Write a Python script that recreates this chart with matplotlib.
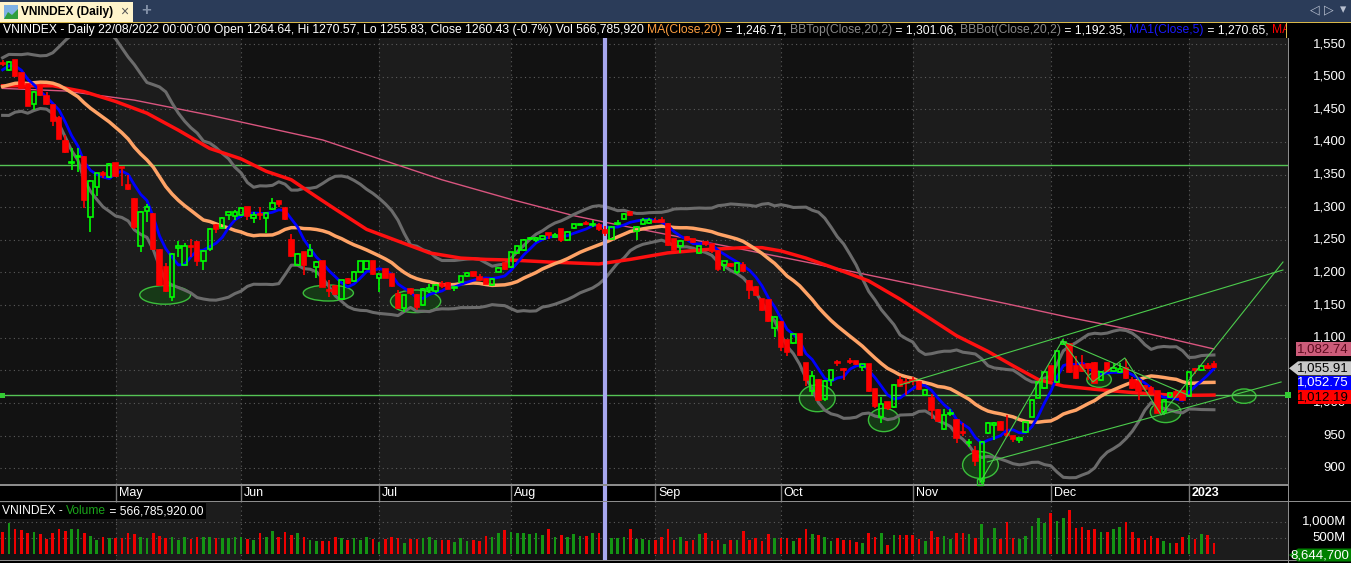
import matplotlib
matplotlib.use('Agg')
import matplotlib.pyplot as plt
import matplotlib.transforms as mtransforms
from matplotlib.patches import Rectangle, Ellipse, Polygon
import numpy as np
import pandas as pd

plt.rcParams['font.family'] = ['Liberation Sans', 'DejaVu Sans']

# ---- daily bars: bar 0 = 05/04/2022 ... bar 193 = 09/01/2023
opens = [
    1521, 1510, 1525, 1505, 1488, 1458, 1485, 1471, 1456, 1436,
    1402, 1368, 1377, 1377, 1285, 1331, 1353, 1346, 1367, 1362,
    1334, 1313, 1240, 1294, 1290, 1235, 1208, 1163, 1238, 1212,
    1241, 1247, 1218, 1236, 1273, 1268, 1288, 1287, 1288, 1300,
    1283, 1290, 1284, 1297, 1309, 1298, 1249, 1212, 1231, 1225,
    1209, 1217, 1173, 1179, 1160, 1190, 1187, 1201, 1206, 1217,
    1192, 1205, 1197, 1167, 1146, 1175, 1165, 1150, 1173, 1171,
    1183, 1184, 1177, 1186, 1194, 1200, 1193, 1190, 1181, 1201,
    1214, 1208, 1230, 1234, 1252, 1249, 1251, 1260, 1255, 1267,
    1249, 1268, 1273.5, 1276.4, 1273.8, 1272, 1264.64, 1252, 1274, 1282,
    1292, 1264, 1275, 1276, 1279, 1280, 1275, 1251, 1241, 1255,
    1251, 1230, 1247, 1243, 1233, 1211, 1213, 1200, 1212, 1187,
    1178, 1159, 1158, 1115, 1124, 1096, 1092, 1105, 1062, 1018,
    1036, 1006, 1036, 1063, 1052, 1064, 1064, 1055, 1059, 1022,
    978, 1001, 994, 1036, 1032, 1035, 1032, 1011.5, 1008, 990,
    960, 983, 974.6, 955, 939, 926, 880, 954, 966.5, 970.5,
    952, 949, 943, 955, 979, 1008, 1023, 1056, 1032, 1091,
    1089.7, 1056, 1057.5, 1059, 1061.5, 1034.5, 1061.5, 1049, 1047, 1054,
    1036, 1033, 1026, 1023, 1018, 986, 1009, 1016.5, 1018, 1010.5,
    1052, 1050, 1057, 1060.5]
highs = [
    1525, 1524, 1526, 1506, 1489, 1478, 1485, 1477, 1457, 1440,
    1410, 1390, 1391, 1378, 1341, 1353, 1356, 1368, 1368, 1362,
    1349, 1314, 1294, 1305, 1291, 1236, 1215, 1230, 1248, 1245,
    1251, 1248, 1234, 1268, 1274, 1285, 1293, 1295, 1299, 1300,
    1293, 1300, 1292, 1314, 1310, 1299, 1259, 1230, 1232, 1243,
    1217, 1218, 1188, 1180, 1188, 1191, 1202, 1218, 1218, 1218,
    1198, 1206, 1198, 1173, 1165, 1176, 1167, 1176, 1182, 1182,
    1187, 1185, 1178, 1194, 1201, 1201, 1197, 1191, 1191, 1208,
    1214, 1232, 1241, 1251, 1255, 1254, 1258, 1261, 1260, 1267,
    1263, 1275, 1275, 1278.5, 1280, 1276, 1270.57, 1271, 1280, 1291,
    1294, 1271, 1283, 1284, 1284, 1285, 1276, 1252, 1249, 1256,
    1252, 1241, 1248, 1244, 1234, 1218, 1215, 1216, 1216, 1189,
    1179, 1159, 1158, 1133, 1125, 1097, 1106, 1106, 1062, 1049,
    1037, 1035, 1051, 1066, 1053, 1069, 1065, 1060, 1060, 1022,
    1009, 1002, 1029, 1042, 1039, 1040, 1033, 1021, 1014.5, 991,
    991, 991.5, 975, 969.5, 945, 934, 942, 971, 971, 972,
    982, 950, 947, 971, 1006, 1033, 1048, 1057, 1080, 1098,
    1091, 1072, 1074, 1062, 1063, 1048, 1062, 1062, 1061.5, 1067,
    1040, 1034, 1027, 1026, 1019, 1006, 1016, 1020, 1019, 1047,
    1053, 1058, 1062, 1064]
lows = [
    1517, 1508, 1500, 1481, 1455, 1449, 1471, 1457, 1425, 1404,
    1383, 1357, 1354, 1299, 1262, 1317, 1345, 1344, 1346, 1332,
    1327, 1266, 1232, 1278, 1235, 1180, 1170, 1157, 1224, 1211,
    1224, 1210, 1203, 1233, 1261, 1267, 1281, 1281, 1287, 1281,
    1276, 1281, 1261, 1296, 1300, 1281, 1224, 1210, 1196, 1224,
    1192, 1177, 1163, 1166, 1158, 1183, 1186, 1200, 1205, 1196,
    1170, 1191, 1178, 1145, 1140, 1166, 1143, 1148, 1169, 1169,
    1176, 1174, 1171, 1185, 1193, 1193, 1187, 1182, 1179, 1200,
    1204, 1207, 1229, 1233, 1249, 1246, 1250, 1251, 1253, 1246,
    1248, 1267, 1273, 1272, 1270, 1263, 1255.83, 1251, 1272, 1280,
    1286, 1249, 1273, 1275, 1276, 1276, 1241, 1233, 1230, 1248,
    1245, 1229, 1240, 1230, 1202, 1202, 1208, 1198, 1201, 1160,
    1164, 1141, 1124, 1101, 1079, 1072, 1090, 1072, 1026, 1013,
    1003, 1003, 1026, 1056, 1035, 1059, 1058, 1049, 1017, 992,
    970, 990, 993, 1025, 1013, 1028, 1020, 1010, 975, 971,
    959, 980, 938, 949, 933, 903, 874, 952, 943, 958,
    948, 941, 938, 954, 978, 1007, 1022, 1034, 1031, 1089.6,
    1046, 1037, 1048, 1036, 1030, 1033, 1048, 1048, 1046, 1037,
    1022, 1005, 1019, 1014, 984, 982, 1008, 1008, 1004, 1009,
    1045, 1049, 1052, 1054]
closes = [
    1519, 1523, 1501, 1482, 1455, 1477, 1472, 1458, 1432, 1405,
    1384, 1369, 1378, 1311, 1340, 1353, 1349, 1366, 1348, 1360,
    1328, 1269, 1293, 1301, 1236, 1181, 1171, 1229, 1240, 1241,
    1239, 1218, 1233, 1267, 1267, 1284, 1292, 1292, 1298, 1286,
    1288, 1289, 1291, 1307, 1305, 1282, 1225, 1229, 1212, 1235,
    1216, 1178, 1172, 1167, 1188, 1184, 1201, 1217, 1217, 1197,
    1197, 1192, 1179, 1146, 1165, 1168, 1147, 1175, 1176, 1181,
    1179, 1175, 1178, 1194, 1199, 1194, 1188, 1183, 1190, 1207,
    1205, 1231, 1240, 1250, 1253, 1253, 1256, 1258, 1257, 1249,
    1262, 1274, 1274.5, 1273.8, 1274.3, 1267, 1260.43, 1270, 1276, 1290,
    1288, 1270, 1280, 1281, 1277, 1278, 1242, 1234, 1248, 1250,
    1247, 1240, 1243, 1233, 1206, 1217, 1210, 1215, 1202, 1173,
    1165, 1142, 1125, 1132, 1086, 1078, 1105, 1073, 1036, 1041,
    1005, 1034, 1050, 1062, 1050, 1063, 1059, 1059, 1018, 995,
    998, 992.5, 1027, 1026, 1030, 1034, 1022, 1020.6, 990, 972,
    982, 984, 946, 954, 940, 911, 941, 969.5, 969.5, 959,
    951.6, 945, 946.5, 970.5, 1005, 1032, 1047, 1035, 1079.4, 1093,
    1047, 1038.5, 1049, 1054, 1031, 1047, 1049, 1054, 1052, 1038.5,
    1023, 1018, 1021, 1015.5, 985, 1005, 1015.5, 1009, 1005, 1046.84,
    1051, 1057, 1053, 1055.91]
volumes_m = [
    677, 957, 763, 731, 634, 677, 624, 462, 634, 785,
    710, 785, 785, 656, 548, 441, 527, 495, 495, 495,
    634, 602, 527, 495, 656, 548, 495, 527, 441, 527,
    462, 527, 527, 527, 495, 495, 495, 527, 527, 462,
    419, 634, 527, 699, 527, 677, 591, 634, 527, 441,
    387, 408, 408, 527, 484, 419, 495, 441, 527, 462,
    355, 462, 527, 495, 333, 462, 462, 495, 527, 419,
    441, 419, 376, 495, 387, 441, 408, 548, 527, 656,
    742, 677, 656, 634, 602, 634, 570, 763, 527, 570,
    527, 602, 548, 548, 634, 656, 567, 495, 495, 527,
    785, 462, 462, 441, 441, 527, 785, 441, 527, 387,
    419, 602, 634, 387, 419, 312, 419, 441, 710, 419,
    495, 387, 602, 495, 495, 495, 387, 495, 785, 602,
    570, 527, 387, 495, 419, 419, 355, 333, 634, 527,
    656, 280, 570, 570, 570, 570, 462, 387, 710, 527,
    548, 462, 634, 634, 602, 495, 925, 495, 817, 462,
    978, 495, 462, 548, 871, 1107, 957, 1279, 1021, 1107,
    1354, 817, 849, 742, 785, 677, 677, 785, 849, 978,
    688, 495, 419, 548, 495, 387, 333, 333, 527, 570,
    462, 602, 583, 344]
# closes before the first visible bar (needed by MA20 / Bollinger)
pre_close = [1473, 1452, 1470, 1473, 1452, 1455, 1463, 1459, 1471, 1489,
             1492, 1498, 1499, 1504, 1494, 1492, 1502, 1515, 1524]

# longer averages (bar index, value)
ma50_bar = [0, 8, 13, 18, 23, 28, 33, 38, 42, 46, 50, 53, 58, 63, 68, 73, 77, 81, 87, 95,
            100, 106, 112, 118, 121, 124, 128, 133, 138, 143, 148, 152, 157, 161, 165, 169,
            174, 180, 187, 193]
ma50_val = [1486, 1486, 1477, 1462, 1444, 1418, 1390, 1374, 1355, 1342, 1316, 1297, 1266,
            1248, 1230, 1222, 1220, 1219, 1216, 1213, 1220, 1230, 1235, 1238, 1238, 1233,
            1222, 1205, 1187, 1159, 1128, 1103, 1079, 1057, 1036, 1026, 1021, 1016, 1011.5,
            1012.19]
ma200_bar = [0, 10, 21, 33, 51, 70, 81, 91, 98, 107, 117, 128, 138, 150, 160, 170, 180, 193]
ma200_val = [1482, 1478, 1464, 1441, 1403, 1342, 1312, 1287, 1273, 1256, 1237, 1216, 1196,
             1172, 1152, 1131, 1112, 1082.74]

month_start = [18, 38, 60, 81, 104, 124, 145, 167, 189]
month_names = ['May', 'Jun', 'Jul', 'Aug', 'Sep', 'Oct', 'Nov', 'Dec', '2023']
sel_bar = 96

# drawn annotations (bar index, price)
ell_bar = [25.9, 51.9, 65.8, 129.8, 140.4, 155.8, 174.7, 185.3, 197.8]
ell_price = [1165.6, 1168.5, 1155.8, 1007.2, 974, 905, 1036, 986, 1010.5]
ell_w = [8.1, 8.0, 8.0, 5.7, 4.9, 5.7, 3.9, 4.9, 3.8]
ell_h = [28.5, 24.5, 34.7, 41, 35.7, 41, 24, 32, 22]
hlines = [1364.2, 1012.3]
trend_lines = [
    [(143.0, 1027.6), (204.0, 1203.8)],
    [(156.9, 909.7), (203.7, 1032.2)],
    [(155.7, 877.5), (168.8, 1095.0), (173.7, 1032.2), (178.8, 1069.0),
     (184.6, 981.7), (204.0, 1216.0)],
    [(168.8, 1095.0), (189.2, 1010.8)],
]

# ---- indicators
n = len(closes)
idx = np.arange(n)
o = np.array(opens); h = np.array(highs); l = np.array(lows); c = np.array(closes)
up = c >= o
full = pd.Series(np.concatenate([pre_close, closes]))
k0 = len(pre_close)
ma20 = full.rolling(20).mean().values[k0:]
sd20 = full.rolling(20).std(ddof=0).values[k0:]
ma5 = full.rolling(5).mean().values[k0:]
bb_top = ma20 + 2 * sd20
bb_bot = ma20 - 2 * sd20

# ---- figure
W, H = 1351, 563
fig = plt.figure(figsize=(W / 100, H / 100), dpi=100)
fig.patch.set_facecolor('black')


def P(x, y):
    return (x / W, 1 - y / H)


def fr(x0, y0, x1, y1):
    return [x0 / W, 1 - y1 / H, (x1 - x0) / W, (y1 - y0) / H]


def rect(x0, y0, x1, y1, col, z=6):
    fig.add_artist(Rectangle(P(x0, y1), (x1 - x0) / W, (y1 - y0) / H,
                             transform=fig.transFigure, facecolor=col,
                             edgecolor='none', zorder=z))


R = 1288
ax = fig.add_axes(fr(0, 38, R, 484))
ax_s = fig.add_axes(fr(0, 484, R, 501), sharex=ax)
ax_v = fig.add_axes(fr(0, 501, R, 560), sharex=ax)
for a in (ax, ax_s, ax_v):
    a.set_facecolor('black')
    a.set_xticks([])
    a.set_yticks([])
    for sp in a.spines.values():
        sp.set_visible(False)
ax.set_xlim(-0.414, 204.8)
ax.set_ylim(875.9, 1559.2)
ax_v.set_ylim(-197e6, 1646e6)
ax_s.set_ylim(0, 1)

# alternating month shading
bounds = [-1] + month_start + [206]
for k in range(len(bounds) - 1):
    col = '#121212' if k % 2 == 0 else '#1c1c1c'
    for a in (ax, ax_v):
        a.axvspan(bounds[k], bounds[k + 1], color=col, lw=0, zorder=0)

grid_kw = dict(color='#5c5c5c', lw=0.8, ls=(0, (1, 3)), zorder=1)
for p in range(900, 1551, 50):
    ax.axhline(p, **grid_kw)
for m in month_start:
    ax.axvline(m, **grid_kw)
    ax_v.axvline(m, **grid_kw)
    ax_s.axvline(m, color='#7a7a7a', lw=1, zorder=1)
for v in (500e6, 1000e6):
    ax_v.axhline(v, **grid_kw)

for ex, ey, ew, eh in zip(ell_bar, ell_price, ell_w, ell_h):
    ax.add_patch(Ellipse((ex, ey), ew, eh, facecolor='#173d17', edgecolor='#3fcf3f',
                         lw=1.0, alpha=0.9, zorder=2))
for p in hlines:
    ax.axhline(p, color='#55c455', lw=1, zorder=2.5)

for a in (ax, ax_s, ax_v):
    a.axvline(sel_bar, color='#a7a7ee', lw=3, zorder=3.5)

ax.plot(ma200_bar, ma200_val, color='#d9557f', lw=1.0, zorder=3)
ax.plot(idx, bb_top, color='#6b6b6b', lw=2.2, zorder=3)
ax.plot(idx, bb_bot, color='#6b6b6b', lw=2.2, zorder=3)
ax.plot(ma50_bar, ma50_val, color='#ff1010', lw=2.5, zorder=3)
ax.plot(idx, ma20, color='#ffa366', lw=2.5, zorder=3)
ax.plot(idx, ma5, color='#0000ff', lw=2, zorder=3)

# candles
bw = 0.7
for i in idx:
    col = '#00ff00' if up[i] else '#ff0000'
    lo_b, hi_b = min(o[i], c[i]), max(o[i], c[i])
    if hi_b - lo_b < 1.5:
        mid = (lo_b + hi_b) / 2
        lo_b, hi_b = mid - 0.75, mid + 0.75
    ax.vlines(i, l[i], lo_b, color=col, lw=1.2, zorder=4)
    ax.vlines(i, hi_b, h[i], color=col, lw=1.2, zorder=4)
    ax.add_patch(Rectangle((i - bw / 2, lo_b), bw, hi_b - lo_b,
                           facecolor='none' if up[i] else col, edgecolor=col,
                           lw=1.2, zorder=4))

for seg in trend_lines:
    xs, ys = zip(*seg)
    ax.plot(xs, ys, color='#4ccc4c', lw=0.8, zorder=5)

# volume
ax_v.bar(idx, np.array(volumes_m) * 1e6, width=0.42,
         color=np.where(up, '#149414', '#ee0000'), zorder=2)

# month labels
off = mtransforms.offset_copy(ax_s.transData, fig=fig, x=3, y=0, units='dots')
for m, name in zip(month_start, month_names):
    ax_s.text(m, 0.45, name, transform=off, ha='left', va='center', color='white',
              fontsize=9, fontweight='bold' if name == '2023' else 'normal')

# frame lines
rect(0, 484.4, R, 485.6, '#8c8c8c', z=6)
rect(0, 500.8, W, 502, '#8c8c8c', z=6)
rect(0, 559.6, W, 560.8, '#8c8c8c', z=6)
rect(R, 38, R + 1.2, 563, '#8c8c8c', z=6)

# right price axis
ytr = mtransforms.blended_transform_factory(fig.transFigure, ax.transData)
for p in range(900, 1551, 50):
    fig.text(1346 / W, p, f'{p:,}', transform=ytr, ha='right', va='center',
             color='white', fontsize=9.5, zorder=5)
vtr = mtransforms.blended_transform_factory(fig.transFigure, ax_v.transData)
for v, s in ((1000e6, '1,000M'), (500e6, '500M')):
    fig.text(1346 / W, v, s, transform=vtr, ha='right', va='center',
             color='white', fontsize=9.5, zorder=5)


def tag(y, text, bg, fg, x0=1298, arrow=False, hh=7):
    if arrow:
        fig.add_artist(Polygon([P(1289, y), P(x0, y - hh), P(W, y - hh), P(W, y + hh),
                                P(x0, y + hh)], closed=True, transform=fig.transFigure,
                               facecolor=bg, edgecolor='none', zorder=6))
    else:
        rect(x0, y - hh, W, y + hh, bg)
    fig.text(*P(1349, y), text, ha='right', va='center', color=fg, fontsize=9.5, zorder=7)


tag(349, f'{ma200_val[-1]:,.2f}', '#cc5c7a', '#5c0a1e', x0=1296)
tag(368.3, f'{c[-1]:,.2f}', '#c8c8c8', 'black', arrow=True)
tag(382.5, f'{ma5[-1]:,.2f}', '#0000ff', 'white')
tag(397.3, f'{ma50_val[-1]:,.2f}', '#ff0000', 'black')
tag(555, '8,644,700', '#008000', 'white', arrow=True, hh=6.5)

# green markers on the 1012 line
rect(0, 392.5, 5, 397.5, '#33cc33', z=7)
rect(1285, 392, 1291, 398, '#33cc33', z=7)
fig.add_artist(Rectangle(P(977, 485), 6 / W, 6 / H, transform=fig.transFigure,
                         facecolor='none', edgecolor='#33cc33', lw=1, zorder=7))

# tab bar
rect(0, 0, W, 22, '#2b3c59', z=5)
rect(0, 2, 133, 22, '#fff4cc', z=6)
rect(4, 5, 18, 19, '#7fb2e5', z=7)
fig.add_artist(Polygon([P(4, 19), P(8, 12), P(12, 15), P(18, 9), P(18, 19)],
                       transform=fig.transFigure, facecolor='#2e9e3e',
                       edgecolor='none', zorder=8))
fig.text(*P(21, 12.5), 'VNINDEX (Daily)', fontweight='bold', fontsize=8.6,
         color='black', va='center', zorder=8)
fig.text(*P(124, 12), '×', color='#555555', fontsize=10, ha='center', va='center', zorder=8)
fig.text(*P(146, 11), '+', color='#8391a8', fontsize=12, fontweight='bold',
         ha='center', va='center', zorder=8)
for xx, s in ((1315, '◁'), (1329, '▷'), (1343, '▾')):
    fig.text(*P(xx, 10), s, color='#b8c0d0', fontsize=9, ha='center', va='center', zorder=8)
rect(0, 22, W, 23.5, '#d9b84a', z=6)
rect(0, 23.5, W, 38, 'black', z=6)

renderer = fig.canvas.get_renderer()


def chain(x, y, parts, size):
    for s, col in parts:
        t = fig.text(*P(x, y), s, color=col, fontsize=size, va='center', ha='left', zorder=7)
        x += t.get_window_extent(renderer).width
    return x


head0 = ('VNINDEX - Daily 22/08/2022 00:00:00 Open 1264.64, Hi 1270.57, Lo 1255.83, '
         'Close 1260.43 (-0.7%) Vol 566,785,920 ')
probe = fig.text(0, 0, head0, fontsize=10)
hsize = 10 * 644 / probe.get_window_extent(renderer).width
probe.remove()
chain(3, 30.5, [(head0, 'white'), ('MA(Close,20)', '#ffa040'), (' = 1,246.71, ', 'white'),
                ('BBTop(Close,20,2)', '#8a8a8a'), (' = 1,301.06, ', 'white'),
                ('BBBot(Close,20,2)', '#8a8a8a'), (' = 1,192.35, ', 'white'),
                ('MA1(Close,5)', '#1a1aff'), (' = 1,270.65, ', 'white'),
                ('MA(Close,50) = 1,221.04', '#ff0000')], hsize)
rect(1286, 23.5, W, 38, 'black', z=9)
rect(1285.5, 23.5, 1286.5, 38, '#d9b84a', z=9)

# volume caption
rect(0, 503, 206, 519, 'black', z=6)
vol0 = 'VNINDEX - Volume = 566,785,920.00'
probe = fig.text(0, 0, vol0, fontsize=10)
vsize = 10 * 202 / probe.get_window_extent(renderer).width
probe.remove()
chain(2, 511, [('VNINDEX - ', 'white'), ('Volume', '#1aa31a'),
               (' = 566,785,920.00', 'white')], vsize)

fig.savefig('out.png', dpi=100, facecolor='black')
